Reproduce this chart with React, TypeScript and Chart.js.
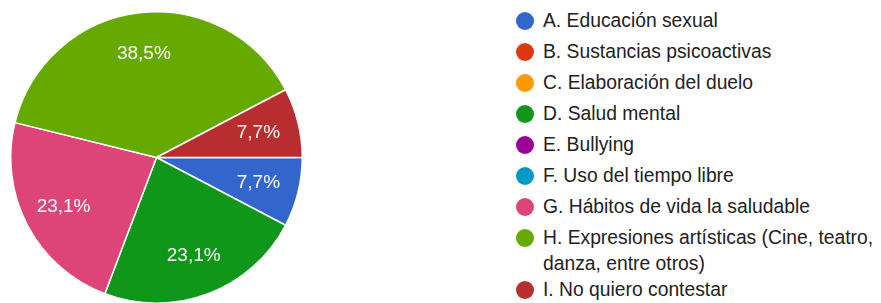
import React, { useEffect, useRef } from "react";
import { Chart, registerables } from "chart.js";

Chart.register(...registerables);

const categories = [
  "A. Educación sexual",
  "B. Sustancias psicoactivas",
  "C. Elaboración del duelo",
  "D. Salud mental",
  "E. Bullying",
  "F. Uso del tiempo libre",
  "G. Hábitos de vida la saludable",
  "H. Expresiones artísticas (Cine, teatro, danza, entre otros)",
  "I. No quiero contestar",
];
const responses = [1, 0, 0, 3, 0, 0, 3, 5, 1];
const colors = [
  "#3366cc",
  "#dc3912",
  "#ff9900",
  "#109618",
  "#990099",
  "#0099c6",
  "#dd4477",
  "#66aa00",
  "#b82e2e",
];

const FONT = "'Liberation Sans', Arial, Helvetica, sans-serif";

const sliceLabels = {
  id: "sliceLabels",
  afterDatasetsDraw(chart: any) {
    const ctx = chart.ctx;
    const meta = chart.getDatasetMeta(0);
    const data = chart.data.datasets[0].data as number[];
    const total = data.reduce((a, b) => a + b, 0);
    ctx.save();
    ctx.fillStyle = "#ffffff";
    ctx.font = `19px ${FONT}`;
    ctx.textAlign = "center";
    ctx.textBaseline = "middle";
    meta.data.forEach((arc: any, i: number) => {
      const v = data[i];
      if (!v) return;
      const { startAngle, endAngle, outerRadius, x, y } = arc.getProps(
        ["startAngle", "endAngle", "outerRadius", "x", "y"],
        true
      );
      const mid = (startAngle + endAngle) / 2;
      const r = outerRadius * 0.72;
      const txt = ((v / total) * 100).toFixed(1).replace(".", ",") + "%";
      ctx.fillText(txt, x + Math.cos(mid) * r, y + Math.sin(mid) * r);
    });
    ctx.restore();
  },
};

export default function App() {
  const ref = useRef<HTMLCanvasElement>(null);
  useEffect(() => {
    if (!ref.current) return;
    const chart = new Chart(ref.current, {
      type: "pie",
      data: {
        labels: categories,
        datasets: [
          {
            data: responses,
            backgroundColor: colors,
            borderColor: "#ffffff",
            borderWidth: 1.5,
          },
        ],
      },
      options: {
        animation: false,
        responsive: false,
        rotation: 90,
        layout: { padding: 0 },
        plugins: {
          legend: { display: false },
          tooltip: { enabled: false },
        },
      },
      plugins: [sliceLabels],
    });
    return () => chart.destroy();
  }, []);

  return (
    <div
      style={{
        position: "fixed",
        left: 0,
        top: 0,
        width: 881,
        height: 303,
        background: "#ffffff",
        overflow: "hidden",
        fontFamily: FONT,
      }}
    >
      <canvas
        ref={ref}
        width={293}
        height={293}
        style={{ position: "absolute", left: 10, top: 11, width: 293, height: 293 }}
      />
      <div style={{ position: "absolute", left: 515, top: 8 }}>
        {categories.map((c, i) => (
          <div
            key={c}
            style={{
              display: "flex",
              alignItems: "flex-start",
              marginBottom: 5,
              marginTop: i === categories.length - 1 ? -5 : 0,
            }}
          >
            <span
              style={{
                width: 18,
                height: 18,
                borderRadius: "50%",
                background: colors[i],
                flex: "0 0 auto",
                marginTop: 4,
                marginLeft: 0.5,
                marginRight: 9.5,
              }}
            />
            <span
              style={{
                fontSize: 19.3,
                lineHeight: "26px",
                color: "#222222",
                width: 345,
              }}
            >
              {c}
            </span>
          </div>
        ))}
      </div>
    </div>
  );
}
